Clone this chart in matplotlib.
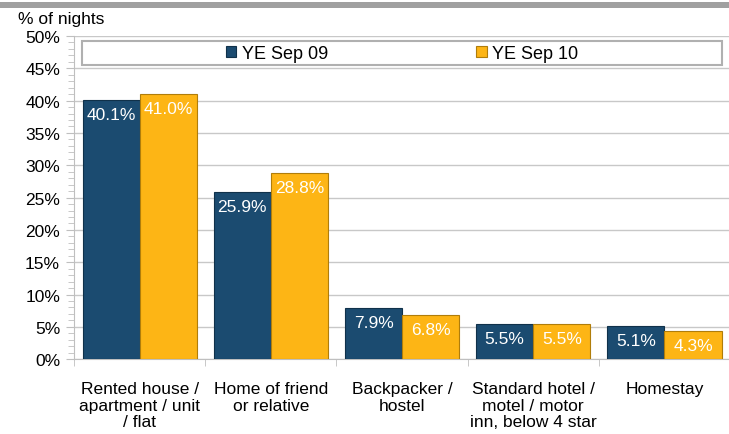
import matplotlib.pyplot as plt
import numpy as np
from matplotlib.patches import Rectangle
from matplotlib.ticker import MultipleLocator

plt.rcParams['font.family'] = ['Liberation Sans', 'DejaVu Sans']

categories = ["Rented house /\napartment / unit\n/ flat", "Home of friend\nor relative",
              "Backpacker /\nhostel", "Standard hotel /\nmotel / motor\ninn, below 4 star",
              "Homestay"]
ye_sep_09 = [40.1, 25.9, 7.9, 5.5, 5.1]
ye_sep_10 = [41.0, 28.8, 6.8, 5.5, 4.3]
series_names = ["YE Sep 09", "YE Sep 10"]

blue = "#1b4b70"
yellow = "#fdb515"

fig = plt.figure(figsize=(7.29, 4.35), dpi=100)
ax = fig.add_axes([0.1015, 0.172, 0.9, 0.743])

x = np.arange(len(categories))
w = 0.435
b1 = ax.bar(x - w / 2, ye_sep_09, w, color=blue, edgecolor="#10314a", linewidth=0.8,
            label=series_names[0], zorder=3)
b2 = ax.bar(x + w / 2, ye_sep_10, w, color=yellow, edgecolor="#b07d0a", linewidth=0.8,
            label=series_names[1], zorder=3)

for bars, vals in [(b1, ye_sep_09), (b2, ye_sep_10)]:
    for rect, v in zip(bars, vals):
        ax.annotate(f"{v:.1f}%", (rect.get_x() + rect.get_width() / 2, v),
                    xytext=(0, -5), textcoords="offset points", ha="center", va="top",
                    color="white", fontsize=12.5, zorder=4)

ax.set_xlim(-0.5, len(categories) - 0.5)
ax.set_ylim(0, 50)
ax.yaxis.set_major_locator(MultipleLocator(5))
ax.yaxis.set_minor_locator(MultipleLocator(1))
ax.set_yticks(np.arange(0, 51, 5))
ax.set_yticklabels([f"{v}%" for v in range(0, 51, 5)], fontsize=12.5)
ax.set_xticks(x)
ax.set_xticklabels(categories, fontsize=12.5, linespacing=1.1)
ax.set_xticks(np.arange(-0.5, len(categories), 1), minor=True)
ax.tick_params(axis="x", which="major", length=0, pad=16)
ax.tick_params(axis="x", which="minor", length=5, color="#bfbfbf")
ax.tick_params(axis="y", which="major", length=6, color="#bfbfbf", pad=4)
ax.tick_params(axis="y", which="minor", length=4, color="#bfbfbf")
ax.grid(axis="y", color="#c8c8c8", linewidth=1, zorder=0)
for s in ["top", "right"]:
    ax.spines[s].set_visible(False)
ax.spines["left"].set_color("#bfbfbf")
ax.spines["bottom"].set_color("#bfbfbf")

# legend box
ax.add_patch(Rectangle((0.012, 0.91), 0.975, 0.074, transform=ax.transAxes,
                       facecolor="white", edgecolor="#b0b0b0", linewidth=1.5, zorder=5))
ax.legend(loc="center", bbox_to_anchor=(0.5, 0.947), ncol=2, frameon=False,
          fontsize=13, columnspacing=8.2, handlelength=0.6, handleheight=0.6,
          handletextpad=0.3).set_zorder(6)

fig.text(0.025, 0.938, "% of nights", fontsize=12.5, ha="left", va="bottom")
fig.patches.append(Rectangle((0, 0.979), 1, 0.014, transform=fig.transFigure,
                             facecolor="#a0a0a0", edgecolor="none"))

fig.savefig("out.png", dpi=100)
